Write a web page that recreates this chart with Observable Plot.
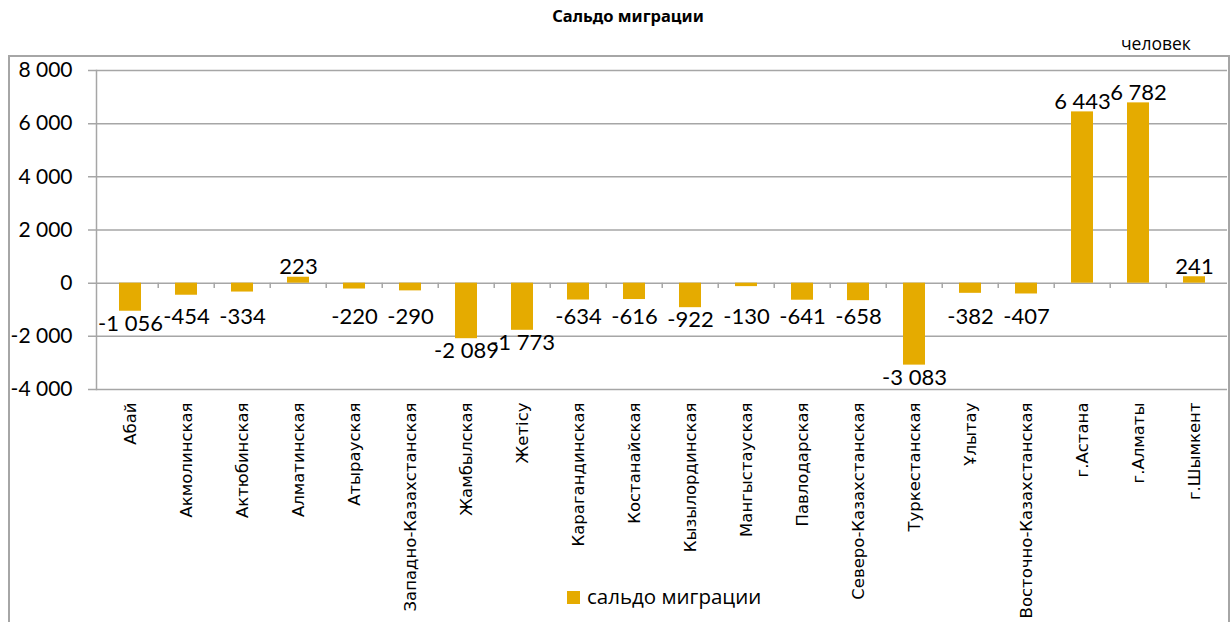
<!DOCTYPE html>
<html><head><meta charset="utf-8">
<script src="https://cdn.jsdelivr.net/npm/d3@7"></script>
<script src="https://cdn.jsdelivr.net/npm/@observablehq/plot@0.6"></script>
<style>
body{margin:0;background:#fff;}
#wrap{position:relative;width:1230px;height:622px;overflow:hidden;font-family:"Open Sans",sans-serif;color:#000;}
#frame{position:absolute;left:8px;top:55px;width:1218px;height:640px;border-left:2px solid #a6a6a6;border-top:2px solid #a6a6a6;border-right:2px solid #a6a6a6;}
#title{position:absolute;left:0;width:1256px;top:4px;text-align:center;font-weight:700;font-size:16.5px;font-family:"Noto Sans","Open Sans",sans-serif;}
#unit{position:absolute;left:1121px;top:31px;font-size:17.5px;}
#legend{position:absolute;top:582px;left:567px;font-size:20.5px;display:flex;align-items:center;}
#legend .sw{width:13px;height:13px;background:#E5AB00;margin-right:7px;margin-top:2px;}
#chart{position:absolute;left:0;top:0;}
</style></head>
<body><div id="wrap">
<div id="frame"></div>
<div id="title">Сальдо миграции</div>
<div id="unit">человек</div>
<div id="chart"></div>
<div id="legend"><div class="sw"></div><span>сальдо миграции</span></div>
</div>
<script>
const categories = ["Абай","Акмолинская","Актюбинская","Алматинская","Атырауская","Западно-Казахстанская","Жамбылская","Жетісу","Карагандинская","Костанайская","Кызылординская","Мангыстауская","Павлодарская","Северо-Казахстанская","Туркестанская","Ұлытау","Восточно-Казахстанская","г.Астана","г.Алматы","г.Шымкент"];
const values = [-1056,-454,-334,223,-220,-290,-2089,-1773,-634,-616,-922,-130,-641,-658,-3083,-382,-407,6443,6782,241];
const yTicks = [-4000,-2000,0,2000,4000,6000,8000];
const seriesName = "сальдо миграции";

const data = categories.map((c,i)=>({c, v: values[i]}));
const loc = d3.formatLocale({decimal:",", thousands:" ", grouping:[3], currency:["",""], minus:"-"});
const fmt = loc.format(",d");
const W = 1230, H = 622, mL = 96, mR = 3, mT = 70, mB = 233;
const bw = (W - mL - mR) / categories.length;
const gray = "#a6a6a6";
const pos = data.filter(d=>d.v>=0), neg = data.filter(d=>d.v<0);

const chart = Plot.plot({
  width: W, height: H, marginLeft: mL, marginRight: mR, marginTop: mT, marginBottom: mB,
  style: {fontFamily: "Lato, sans-serif", background: "transparent"},
  x: {type: "band", domain: categories, paddingInner: 0, paddingOuter: 0},
  y: {domain: [-4000, 8000]},
  marks: [
    Plot.ruleY(yTicks, {stroke: gray, strokeWidth: 1.5, insetLeft: -8}),
    Plot.barY(data, {x: "c", y: "v", fill: "#E5AB00", insetLeft: 17, insetRight: 17}),
    Plot.ruleX(categories.slice(1), {x: d=>d, y1: 0, y2: -200, dx: -bw/2, stroke: gray, strokeWidth: 1.5}),
    Plot.frame({anchor: "left", stroke: gray, strokeWidth: 1.5}),
    Plot.axisY({ticks: yTicks, tickFormat: fmt, tickSize: 0, tickPadding: 24, fontSize: 21, label: null}),
    Plot.axisX({tickSize: 0, tickPadding: 13, tickRotate: -90, fontSize: 16.5, fontFamily: "DejaVu Sans", label: null}),
    Plot.text(pos, {x: "c", y: "v", text: d=>fmt(d.v), lineAnchor: "bottom", dy: -3, fontSize: 22, fill: "#000"}),
    Plot.text(neg, {x: "c", y: d=>Math.min(d.v, -800), text: d=>fmt(d.v), lineAnchor: "top", dy: 4, fontSize: 22, fill: "#000"})
  ]
});
document.getElementById("chart").appendChild(chart);
</script>
</body></html>
